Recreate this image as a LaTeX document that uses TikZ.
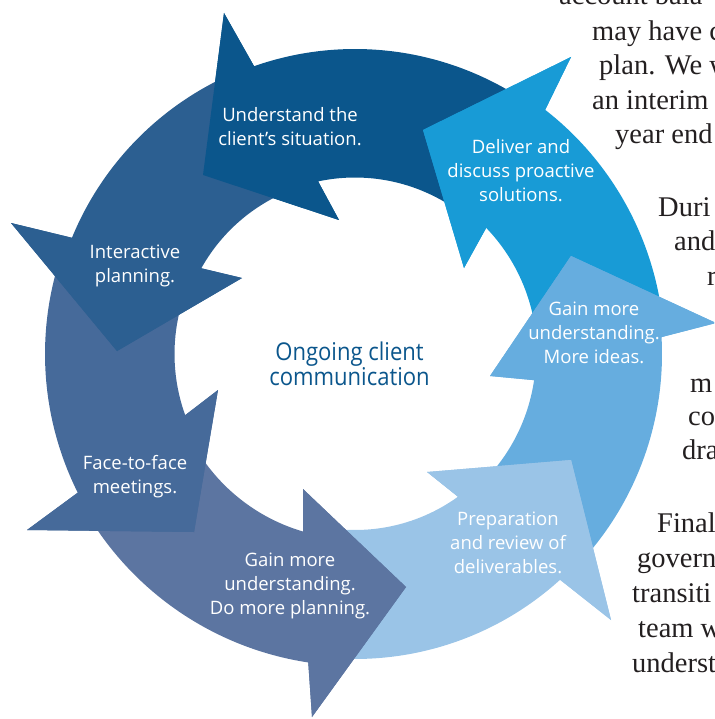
\documentclass[tikz,border=0pt]{standalone}
\usepackage{fontspec}
\setmainfont{Liberation Serif}
\newfontfamily\labelfont{Open Sans}
\usetikzlibrary{calc}
\definecolor{colU}{RGB}{11,86,140}
\definecolor{colD}{RGB}{24,155,214}
\definecolor{colGa}{RGB}{102,173,223}
\definecolor{colP}{RGB}{154,196,231}
\definecolor{colGb}{RGB}{92,117,161}
\definecolor{colF}{RGB}{70,106,154}
\definecolor{colI}{RGB}{44,95,145}
\definecolor{bodytext}{RGB}{35,31,32}
\begin{document}
\begin{tikzpicture}[x=1pt,y=-1pt,
  lbl/.style={text=white, font=\labelfont\fontsize{18.5}{24}\selectfont, align=center, inner sep=0pt},
  centretext/.style={text=colU, font=\labelfont\fontsize{24.5}{25}\selectfont, align=center, inner sep=0pt, xscale=0.9},
  serifline/.style={anchor=base west, inner sep=0pt, text=bodytext, font=\fontsize{28.5}{35}\selectfont}]
\clip (0,0) rectangle (714,719);
\coordinate (C) at (355,354);
% head points
\coordinate (UT) at (203,175); \coordinate (UBo) at (224,13);  \coordinate (UBi) at (339,220);
\coordinate (DT) at (423,130); \coordinate (DBo) at (571,57);  \coordinate (DBi) at (464,268);
\coordinate (GaT) at (571,256); \coordinate (GaBo) at (716,323); \coordinate (GaBi) at (490,376);
\coordinate (PT) at (571,460); \coordinate (PBo) at (611,620); \coordinate (PBi) at (427,472);
\coordinate (GbT) at (406,587); \coordinate (GbBo) at (312,717); \coordinate (GbBi) at (303,489);
\coordinate (FT) at (194,532); \coordinate (FBo) at (27,530);  \coordinate (FBi) at (218,390);
\coordinate (IT) at (117,351); \coordinate (IBo) at (11,223);  \coordinate (IBi) at (242,278);
% full arrows (body + head)
\fill[colU] (UT) -- (UBo) -- ($(C)+(250.67:305)$) arc[start angle=250.67, end angle=304.91, radius=305]
  -- ($(C)+(313.12:176.5)$) arc[start angle=313.12, end angle=257.93, radius=176.5] -- (UBi) -- cycle;
\fill[colD] (DT) -- (DBo) -- ($(C)+(307.91:309.5)$) arc[start angle=307.91, end angle=353.84, radius=309.5]
  -- ($(C)+(365.31:182)$) arc[start angle=365.31, end angle=316.12, radius=182] -- (DBi) -- cycle;
\fill[colGa] (GaT) -- (GaBo) -- ($(C)+(356.84:307)$) arc[start angle=356.84, end angle=404.75, radius=307]
  -- ($(C)+(411.2:181)$) arc[start angle=411.2, end angle=368.31, radius=181] -- (GaBi) -- cycle;
\fill[colP] (PT) -- (PBo) -- ($(C)+(47.75:305)$) arc[start angle=47.75, end angle=95.62, radius=305]
  -- ($(C)+(103.28:176)$) arc[start angle=103.28, end angle=54.2, radius=176] -- (PBi) -- cycle;
\fill[colGb] (GbT) -- (GbBo) -- ($(C)+(98.62:312)$) arc[start angle=98.62, end angle=150.43, radius=312]
  -- ($(C)+(157.18:185)$) arc[start angle=157.18, end angle=106.28, radius=185] -- (GbBi) -- cycle;
\fill[colF] (FT) -- (FBo) -- ($(C)+(153.43:310)$) arc[start angle=153.43, end angle=199.32, radius=310]
  -- ($(C)+(206.15:180.5)$) arc[start angle=206.15, end angle=160.18, radius=180.5] -- (FBi) -- cycle;
\fill[colI] (IT) -- (IBo) -- ($(C)+(202.32:306)$) arc[start angle=202.32, end angle=247.67, radius=306]
  -- ($(C)+(254.93:176)$) arc[start angle=254.93, end angle=209.15, radius=176] -- (IBi) -- cycle;
% heads on top
\fill[colU] (UT) -- (UBo) -- ($(C)+(250.67:305)$) -- ($(C)+(257.93:176.5)$) -- (UBi) -- cycle;
\fill[colD] (DT) -- (DBo) -- ($(C)+(307.91:309.5)$) -- ($(C)+(316.12:182)$) -- (DBi) -- cycle;
\fill[colGa] (GaT) -- (GaBo) -- ($(C)+(356.84:307)$) -- ($(C)+(368.31:181)$) -- (GaBi) -- cycle;
\fill[colP] (PT) -- (PBo) -- ($(C)+(47.75:305)$) -- ($(C)+(54.2:176)$) -- (PBi) -- cycle;
\fill[colGb] (GbT) -- (GbBo) -- ($(C)+(98.62:312)$) -- ($(C)+(106.28:185)$) -- (GbBi) -- cycle;
\fill[colF] (FT) -- (FBo) -- ($(C)+(153.43:310)$) -- ($(C)+(160.18:180.5)$) -- (FBi) -- cycle;
\fill[colI] (IT) -- (IBo) -- ($(C)+(202.32:306)$) -- ($(C)+(209.15:176)$) -- (IBi) -- cycle;
% labels
\node[lbl] (lU) at (290,127) {Understand the\\client’s situation.};
\node[lbl] (lD) at (521,170.5) {Deliver and\\discuss proactive\\solutions.};
\node[lbl] (lGa) at (594,333) {Gain more\\understanding.\\More ideas.};
\node[lbl] (lP) at (508,542.5) {Preparation\\and review of\\deliverables.};
\node[lbl] (lGb) at (290,585.5) {Gain more\\understanding.\\Do more planning.};
\node[lbl] (lF) at (135,476.5) {Face-to-face\\meetings.};
\node[lbl] (lI) at (135,265.5) {Interactive\\planning.};
\node[centretext] (mid) at (349.5,364) {Ongoing client\\communication};
% running text at right
\node[serifline] (t1) at (559,5) {account bala};
\node[serifline] (t2) at (592,41) {may have c};
\node[serifline] (t3) at (599,75) {plan. We w};
\node[serifline] (t4) at (592,110) {an interim};
\node[serifline] (t5) at (615,144) {year end};
\node[serifline] (t6) at (658,216) {Duri};
\node[serifline] (t7) at (674,250) {and};
\node[serifline] (t8) at (707,285) {r};
\node[serifline] (t9) at (690,392) {m};
\node[serifline] (t10) at (688,425.5) {co};
\node[serifline] (t11) at (682,459) {dra};
\node[serifline] (t12) at (657,532) {Final};
\node[serifline] (t13) at (637,567) {govern};
\node[serifline] (t14) at (632,602) {transiti};
\node[serifline] (t15) at (638,637) {team w};
\node[serifline] (t16) at (632,672) {underst};
\end{tikzpicture}
\end{document}
